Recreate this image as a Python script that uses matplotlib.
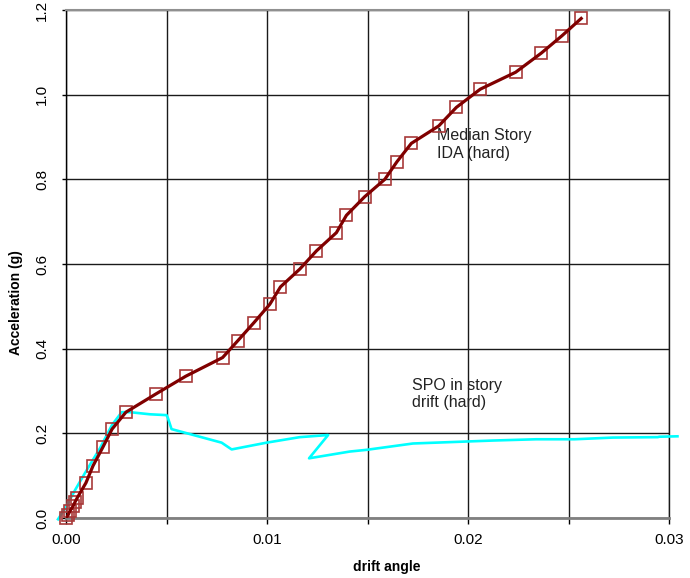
import matplotlib
matplotlib.use('Agg')
import matplotlib.pyplot as plt
from matplotlib.ticker import MultipleLocator, FixedLocator

plt.rcParams['font.family'] = ['Liberation Sans', 'DejaVu Sans']

# median story IDA (hard) - drift angle vs acceleration
ida_drift = [0.0, 0.0001, 0.0002, 0.00035, 0.00045, 0.00055, 0.00099, 0.00134, 0.00184,
             0.00229, 0.00298, 0.00447, 0.00596, 0.00779, 0.00855, 0.00934, 0.01014,
             0.01067, 0.01163, 0.01246, 0.01345, 0.01395, 0.01486, 0.01586, 0.01647,
             0.01718, 0.01854, 0.01942, 0.02061, 0.02237, 0.02364, 0.02467, 0.02563]
ida_acc = [0.0, 0.007, 0.017, 0.028, 0.038, 0.047, 0.083, 0.123, 0.168,
           0.210, 0.250, 0.293, 0.335, 0.379, 0.419, 0.461, 0.505,
           0.546, 0.588, 0.631, 0.674, 0.715, 0.759, 0.800, 0.842,
           0.885, 0.926, 0.970, 1.013, 1.053, 1.098, 1.139, 1.180]

# static pushover curve in story drift (hard)
spo_drift = [-0.0004, 0.0, 0.00045, 0.00094, 0.00169, 0.00229, 0.00277, 0.00318,
             0.00417, 0.0050, 0.00507, 0.00525, 0.00774, 0.00824, 0.00998, 0.01163,
             0.01304, 0.01209, 0.01412, 0.01495, 0.01726, 0.02124, 0.02339, 0.0253,
             0.0272, 0.02944, 0.02952, 0.03042]
spo_acc = [-0.003, 0.026, 0.066, 0.106, 0.165, 0.220, 0.250, 0.250,
           0.245, 0.243, 0.236, 0.210, 0.178, 0.162, 0.178, 0.191,
           0.196, 0.141, 0.157, 0.161, 0.176, 0.183, 0.186, 0.186,
           0.190, 0.191, 0.192, 0.193]

x_ticks = [0.0, 0.01, 0.02, 0.03]
x_tick_labels = ['0.00', '0.01', '0.02', '0.03']
y_ticks = [0.0, 0.2, 0.4, 0.6, 0.8, 1.0, 1.2]
y_tick_labels = ['0.0', '0.2', '0.4', '0.6', '0.8', '1.0', '1.2']

fig = plt.figure(figsize=(6.9, 5.78), dpi=100)
ax = fig.add_axes([0.0957, 0.1038, 0.8739, 0.8789])

ax.plot(spo_drift, spo_acc, color='#00ffff', lw=1.9, zorder=3, clip_on=False)
ax.plot(ida_drift, ida_acc, linestyle='none', marker='s', markersize=8,
        markerfacecolor='none', markeredgecolor='#a83a3a', markeredgewidth=1.2,
        zorder=4, clip_on=False)
ax.plot(ida_drift, ida_acc, color='#800000', lw=2.3, zorder=5)

ax.set_xlim(0, 0.03)
ax.set_ylim(0, 1.2)

ax.xaxis.set_major_locator(FixedLocator(x_ticks))
ax.xaxis.set_minor_locator(MultipleLocator(0.005))
ax.set_xticklabels(x_tick_labels)
ax.yaxis.set_major_locator(FixedLocator(y_ticks))
ax.set_yticklabels(y_tick_labels, rotation=90, va='center')

ax.grid(True, which='both', axis='x', color='#1a1a1a', lw=1.0, zorder=1)
ax.grid(True, which='major', axis='y', color='#1a1a1a', lw=1.0, zorder=1)
ax.set_axisbelow(True)

ax.tick_params(axis='x', which='both', direction='out', length=4, width=1, labelsize=11, pad=7)
ax.tick_params(axis='y', direction='out', length=3, width=1, labelsize=11, pad=9)

ax.spines['left'].set_color('black')
ax.spines['left'].set_linewidth(1.0)
ax.spines['bottom'].set_color('#808080')
ax.spines['bottom'].set_linewidth(2.0)
ax.spines['top'].set_color('#909090')
ax.spines['top'].set_linewidth(1.5)
ax.spines['right'].set_color('#1a1a1a')
ax.spines['right'].set_linewidth(1.0)

ax.set_xlabel('drift angle', fontsize=10, fontweight='bold')
ax.set_ylabel('Acceleration (g)', fontsize=10, fontweight='bold')
ax.xaxis.set_label_coords(0.532, -0.082)
ax.yaxis.set_label_coords(-0.071, 0.425)

ax.text(0.01844, 0.921, 'Median Story\nIDA (hard)', fontsize=11.5, color='#222222',
        ha='left', va='top', linespacing=1.2)
ax.text(0.0172, 0.331, 'SPO in story\ndrift (hard)', fontsize=11.5, color='#222222',
        ha='left', va='top', linespacing=1.2)

fig.savefig('out.png', dpi=100)
